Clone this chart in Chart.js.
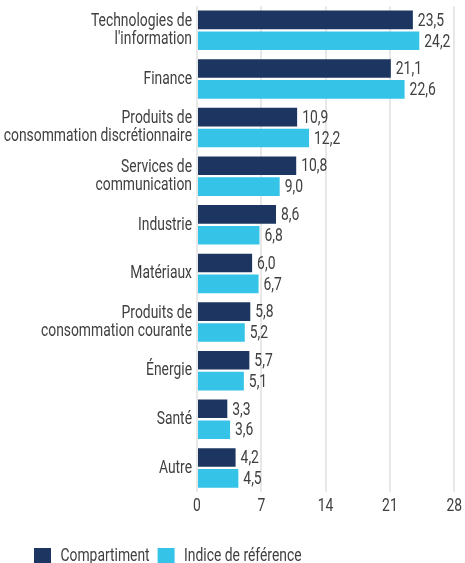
<!DOCTYPE html>
<html>
<head>
<meta charset="utf-8">
<script src="https://cdn.jsdelivr.net/npm/chart.js@4"></script>
<style>
html,body{margin:0;padding:0;overflow:hidden;background:#fff;}
#wrap{width:465px;height:576px;position:relative;}
</style>
</head>
<body>
<div id="wrap"><canvas id="c"></canvas></div>
<script>
const categories = [
  ["Technologies de", "l'information"],
  "Finance",
  ["Produits de", "consommation discrétionnaire"],
  ["Services de", "communication"],
  "Industrie",
  "Matériaux",
  ["Produits de", "consommation courante"],
  "Énergie",
  "Santé",
  "Autre"
];
const compartiment = [23.5, 21.1, 10.9, 10.8, 8.6, 6.0, 5.8, 5.7, 3.3, 4.2];
const indice = [24.2, 22.6, 12.2, 9.0, 6.8, 6.7, 5.2, 5.1, 3.6, 4.5];
const seriesNames = ["Compartiment", "Indice de référence"];
const xTicks = [0, 7, 14, 21, 28];

const FONT = "Roboto, 'Liberation Sans', sans-serif";
const WEIGHT = 400;
const SIZE = 19;
const TXT = '#404040';
const SX = 0.73; // horizontal condensing of text to imitate the condensed face

const canvas = document.getElementById('c');
const ctx2d = canvas.getContext('2d');
const origFill = ctx2d.fillText;
const origMeasure = ctx2d.measureText;
ctx2d.fillText = function (t, x, y, mw) {
  this.save();
  this.translate(x, y);
  this.scale(SX, 1);
  if (mw === undefined) origFill.call(this, t, 0, 0);
  else origFill.call(this, t, 0, 0, mw / SX);
  this.restore();
};
ctx2d.measureText = function (t) {
  const m = origMeasure.call(this, t);
  return {
    width: m.width * SX,
    actualBoundingBoxAscent: m.actualBoundingBoxAscent,
    actualBoundingBoxDescent: m.actualBoundingBoxDescent,
    actualBoundingBoxLeft: m.actualBoundingBoxLeft * SX,
    actualBoundingBoxRight: m.actualBoundingBoxRight * SX,
    fontBoundingBoxAscent: m.fontBoundingBoxAscent,
    fontBoundingBoxDescent: m.fontBoundingBoxDescent
  };
};

const valueLabels = {
  id: 'valueLabels',
  afterDatasetsDraw(chart) {
    const ctx = chart.ctx;
    ctx.save();
    ctx.font = WEIGHT + " " + SIZE + "px " + FONT;
    ctx.fillStyle = TXT;
    ctx.textAlign = 'left';
    ctx.textBaseline = 'middle';
    chart.data.datasets.forEach((ds, di) => {
      chart.getDatasetMeta(di).data.forEach((bar, i) => {
        const v = ds.data[i];
        ctx.fillText(v.toFixed(1).replace('.', ','), bar.x + 5, bar.y + 1);
      });
    });
    ctx.restore();
  }
};

const legendShift = {
  id: 'legendShift',
  beforeDraw(chart) {
    if (chart.legend) chart.legend.left = 26;
  }
};

new Chart(canvas, {
  type: 'bar',
  data: {
    labels: categories,
    datasets: [
      { label: seriesNames[0], data: compartiment, backgroundColor: '#1c3661' },
      { label: seriesNames[1], data: indice, backgroundColor: '#35c3e8' }
    ]
  },
  options: {
    indexAxis: 'y',
    responsive: true,
    maintainAspectRatio: false,
    animation: false,
    devicePixelRatio: 1,
    layout: { padding: { top: 6, right: 8, left: 0, bottom: 0 } },
    datasets: { bar: { categoryPercentage: 0.86, barPercentage: 0.89 } },
    scales: {
      x: {
        min: 0, max: 28,
        afterBuildTicks(scale) { scale.ticks = xTicks.map(v => ({ value: v })); },
        afterFit(scale) { scale.height += 18; },
        grid: { color: '#e8e8e8', lineWidth: 2, drawTicks: false },
        border: { display: false },
        ticks: { color: TXT, font: { family: FONT, size: SIZE, weight: WEIGHT }, padding: 3 }
      },
      y: {
        afterFit(scale) { scale.width = 197; scale.paddingTop = 0; scale.paddingBottom = 0; },
        grid: { display: false, drawTicks: false },
        border: { display: false },
        ticks: { color: TXT, font: { family: FONT, size: SIZE, weight: WEIGHT, lineHeight: 0.95 }, padding: 5 }
      }
    },
    plugins: {
      legend: {
        position: 'bottom',
        align: 'start',
        labels: {
          color: TXT,
          font: { family: FONT, size: SIZE, weight: WEIGHT },
          boxWidth: 17, boxHeight: 17,
          padding: 8
        }
      },
      tooltip: { enabled: false }
    }
  },
  plugins: [valueLabels, legendShift]
});
</script>
</body>
</html>
